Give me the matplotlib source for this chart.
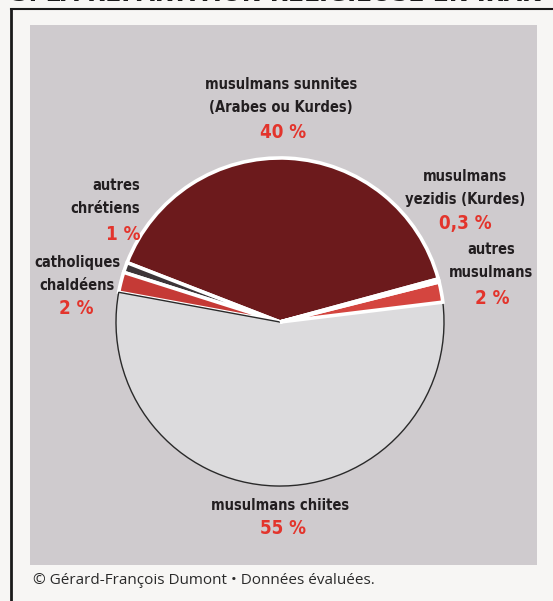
import matplotlib
matplotlib.use("Agg")
import matplotlib.pyplot as plt
from matplotlib.patches import Rectangle

# ---- data ----
categories = ["musulmans sunnites", "autres chrétiens", "catholiques chaldéens",
              "musulmans chiites", "autres musulmans", "musulmans yezidis"]
values = [40, 1, 2, 55, 2, 0.3]
pct_labels = ["40 %", "1 %", "2 %", "55 %", "2 %", "0,3 %"]
colors = ["#6c1a1c", "#3d3538", "#c53a36", "#dcdbdd", "#d4453f", "#151214"]
explode = [0.03, 0.04, 0.035, 0.04, 0.04, 0.045]

W, H = 553, 601
fig = plt.figure(figsize=(W / 100, H / 100), dpi=100)
fig.patch.set_facecolor("#f7f6f4")
ax = fig.add_axes([0, 0, 1, 1])


def Y(py):
    return H - py


# pie
total = sum(values)
start = 90 - 0.5 * values[0] / total * 360 - 3
wedges, _ = ax.pie(values, colors=colors, startangle=start, counterclock=True,
                   center=(280, Y(322)), radius=164, explode=explode,
                   wedgeprops=dict(edgecolor="white", linewidth=2.6), frame=True)
ax.set_xlim(0, W)
ax.set_ylim(0, H)
ax.set_aspect("equal")
ax.axis("off")
wedges[3].set_edgecolor("#2a2a2a")
wedges[3].set_linewidth(1.0)

# frame and panel
ax.add_patch(Rectangle((30, Y(565)), 507, 540, facecolor="#cfcbce", edgecolor="none", zorder=0))
ax.plot([11, 11], [Y(9), 0], color="#1a1a1a", lw=2, zorder=1)
ax.plot([11, W], [Y(9), Y(9)], color="#1a1a1a", lw=1.5, zorder=1)

# cut-off heading at the top
ax.text(276, Y(-6), "3. LA RÉPARTITION RELIGIEUSE EN IRAK", ha="center", va="center",
        fontsize=17, fontweight="bold", color="#1a1a1a", family="DejaVu Sans", zorder=2)

fname = ["DejaVu Sans"]
lab_kw = dict(fontsize=10.5, fontweight="bold", color="#221e20", family=fname,
              fontstretch="condensed", ha="center", va="center", linespacing=1.6)
pct_kw = dict(fontsize=13.5, fontweight="bold", color="#e3342c", family=fname,
              fontstretch="condensed", ha="center", va="center")

# sunni
ax.text(281, Y(96), "musulmans sunnites\n(Arabes ou Kurdes)", **lab_kw)
ax.text(283, Y(133), pct_labels[0], **pct_kw)
# autres chrétiens
ax.text(140, Y(197), "autres\nchrétiens", **{**lab_kw, "ha": "right", "multialignment": "right"})
ax.text(140, Y(234), pct_labels[1], **{**pct_kw, "ha": "right"})
# catholiques chaldéens
ax.text(77, Y(274), "catholiques\nchaldéens", **lab_kw)
ax.text(76, Y(308), pct_labels[2], **pct_kw)
# yezidis
ax.text(465, Y(188), "musulmans\nyezidis (Kurdes)", **lab_kw)
ax.text(465, Y(223), pct_labels[5], **pct_kw)
# autres musulmans
ax.text(491, Y(261), "autres\nmusulmans", **lab_kw)
ax.text(492, Y(298), pct_labels[4], **pct_kw)
# chiites
ax.text(280, Y(505), "musulmans chiites", **lab_kw)
ax.text(283, Y(529), pct_labels[3], **pct_kw)

# source note
ax.text(33, Y(581), "© Gérard-François Dumont • Données évaluées.", ha="left", va="center",
        fontsize=11, color="#2a2a2a", family="Open Sans")

fig.savefig("out.png", dpi=100, facecolor=fig.get_facecolor())
